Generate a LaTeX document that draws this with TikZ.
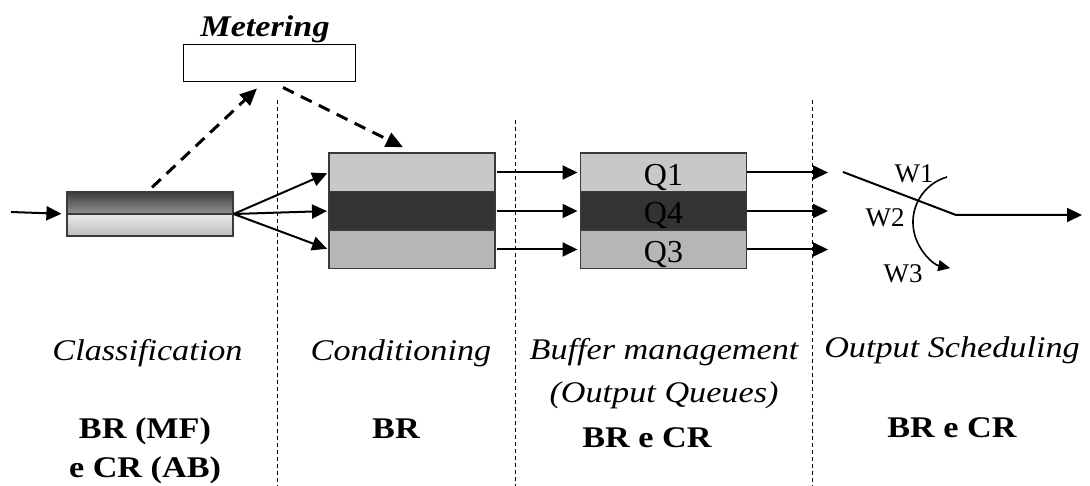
\documentclass[tikz,border=0pt]{standalone}
\usepackage{fontspec}
\setmainfont{Liberation Serif}
\newfontfamily\widefont{Liberation Serif}[FakeStretch=1.14]
\usepackage{tikz}
\usetikzlibrary{arrows.meta,positioning}
\definecolor{stripelight}{HTML}{C8C8C8}
\definecolor{stripedark}{HTML}{333333}
\definecolor{stripemid}{HTML}{B6B6B6}
\definecolor{rim}{HTML}{3A3A3A}
\definecolor{clstop}{HTML}{3C3C3C}
\definecolor{clsglow}{HTML}{EAEAEA}
\definecolor{clsbase}{HTML}{BDBDBD}
\tikzset{
    %Define standard arrow tip
    >={Triangle[length=15pt,width=14pt]},
    %Define style for boxes
    stripe/.style={
           rectangle,
           draw=rim, line width=1.5pt,
           minimum width=166pt,
           minimum height=38.5pt,
           inner sep=0pt, outer sep=0pt,
           text height=26pt, text depth=0pt,
           font=\fontsize{32}{38}\selectfont},
    clsbox/.style={
           rectangle,
           draw=rim, line width=1.2pt,
           minimum width=166pt,
           minimum height=44pt,
           inner sep=0pt,
           path picture={
             \shade[top color=clstop, bottom color=clsglow]
               (path picture bounding box.north west) rectangle (path picture bounding box.east);
             \shade[top color=clsglow, bottom color=clsbase]
               (path picture bounding box.west) rectangle (path picture bounding box.south east);
             \draw[rim, line width=1.2pt]
               (path picture bounding box.west) -- (path picture bounding box.east);}},
    meterbox/.style={
           rectangle,
           draw=black, line width=1pt,
           minimum width=172pt,
           minimum height=37pt,
           fill=white},
    colname/.style={
           anchor=base, align=center,
           font=\widefont\itshape\fontsize{30}{43}\selectfont},
    rate/.style={
           anchor=base, align=center,
           font=\widefont\bfseries\fontsize{30}{39}\selectfont},
    wlabel/.style={
           anchor=base, inner sep=0pt,
           font=\fontsize{27}{32}\selectfont},
    % Define arrow style
    pil/.style={
           ->,
           line width=2pt},
    dashpil/.style={
           ->,
           line width=3pt,
           dash pattern=on 12pt off 8pt,
           >={Triangle[length=17pt,width=15pt]}},
    divider/.style={
           line width=1pt,
           dash pattern=on 4pt off 3pt}
}
\begin{document}
\begin{tikzpicture}[x=1pt,y=-1pt]
\useasboundingbox (0,0) rectangle (1090,486);
% column dividers
\draw[divider] (277,100) -- (277,486);
\draw[divider] (515,120) -- (515,486);
\draw[divider] (812,100) -- (812,486);
% boxes
\node[clsbox] (cls) at (150,214) {};
\node[stripe, fill=stripelight] (c1) at (412,172.5) {};
\node[stripe, fill=stripedark, below=0pt of c1] (c2) {};
\node[stripe, fill=stripemid, below=0pt of c2] (c3) {};
\node[stripe, fill=stripelight] (q1) at (663.5,172.5) {Q1};
\node[stripe, fill=stripedark, below=0pt of q1] (q4) {Q4};
\node[stripe, fill=stripemid, below=0pt of q4] (q3) {Q3};
\node[meterbox] (meter) at (269,63.5) {};
\node[above=1pt of meter, xshift=-4pt, inner sep=0pt,
      font=\widefont\bfseries\itshape\fontsize{30}{36}\selectfont] (meterlbl) {Metering};
% free ends
\coordinate (src) at (11,212);
\coordinate (outx) at (828,0);
\coordinate (swin) at (843,172);
\coordinate (pivot) at (956,215);
\coordinate (sink) at (1082,215);
\coordinate (wtop) at (947,177);
% connectors
\draw[pil, shorten >=5pt] (src) -- (cls.west);
\draw[pil, shorten >=2pt] (cls.east) -- (c1.west);
\draw[pil, shorten >=2pt] (cls.east) -- (c2.west);
\draw[pil, shorten >=2pt] (cls.east) -- (c3.west);
\draw[pil, shorten <=2pt, shorten >=3pt] (c1.east) -- (q1.west);
\draw[pil, shorten <=2pt, shorten >=3pt] (c2.east) -- (q4.west);
\draw[pil, shorten <=2pt, shorten >=3pt] (c3.east) -- (q3.west);
\draw[pil] (q1.east) -- (q1.east -| outx);
\draw[pil] (q4.east) -- (q4.east -| outx);
\draw[pil] (q3.east) -- (q3.east -| outx);
\draw[dashpil] ([xshift=2pt,yshift=4pt]cls.north) -- ([xshift=-12pt,yshift=-6pt]meter.south);
\draw[dashpil] ([xshift=14pt,yshift=-5pt]meter.south) -- ([xshift=-9pt,yshift=6pt]c1.north);
% scheduler
\draw[pil] (swin) -- (pivot) -- (sink);
\draw[->, line width=1.6pt, >={Triangle[length=12pt,width=11pt]}]
  (wtop) arc[start angle=106, end angle=258, radius=47pt];
\node[wlabel] (w1) at (914,183) {W1};
\node[wlabel] (w2) at (885,227) {W2};
\node[wlabel] (w3) at (903,283) {W3};
% column labels
\node[colname] (clsname) at (147.5,360) {Classification};
\node[colname] (condname) at (401,360) {Conditioning};
\node[colname] (bufname) at (664,402) {Buffer management\\(Output Queues)};
\node[colname] (schedname) at (952,357) {Output Scheduling};
\node[rate] (clsrate) at (145,477) {BR (MF)\\e CR (AB)};
\node[rate] (condrate) at (396,438) {BR};
\node[rate] (bufrate) at (647,447) {BR e CR};
\node[rate] (schedrate) at (952,437) {BR e CR};
\end{tikzpicture}
\end{document}
